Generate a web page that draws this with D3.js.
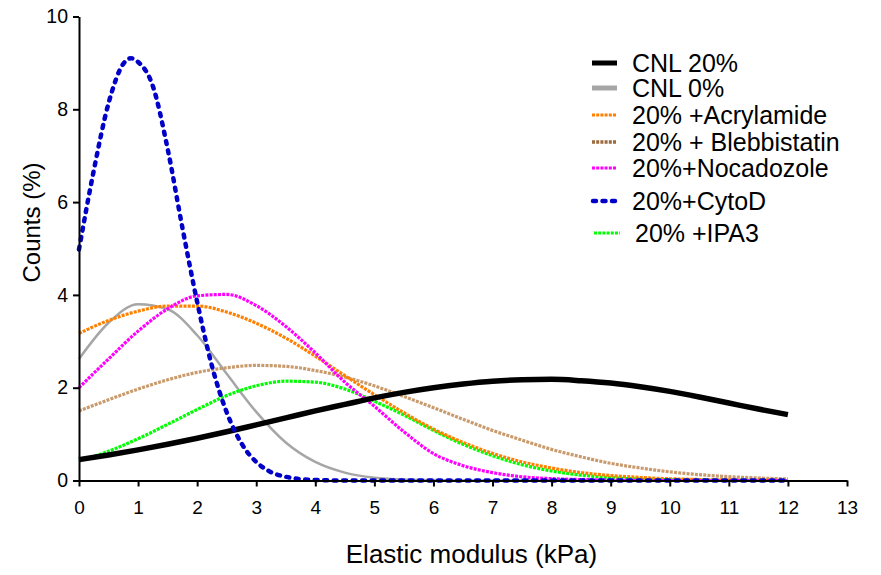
<!DOCTYPE html>
<html>
<head>
<meta charset="utf-8">
<script src="https://cdn.jsdelivr.net/npm/d3@7"></script>
<style>
  html, body { margin: 0; padding: 0; background: #fff; }
  svg { display: block; font-family: "Liberation Sans", Arial, sans-serif; }
</style>
</head>
<body>
<svg id="chart" width="881" height="575"></svg>
<script>
// ---- data ----
const xGrid = [0,0.5,1,1.5,2,2.5,3,3.5,4,4.5,5,5.5,6,6.5,7,7.5,8,8.5,9,9.5,10,10.5,11,11.5,12];
const cnl20 = [0.45,0.55,0.66,0.78,0.91,1.05,1.20,1.35,1.50,1.64,1.78,1.90,2.00,2.08,2.14,2.17,2.18,2.15,2.10,2.02,1.92,1.80,1.67,1.54,1.42];
const cnl0 = [2.62,3.40,3.80,3.69,3.13,2.30,1.48,0.82,0.40,0.17,0.06,0.02,0.01,0,0,0,0,0,0,0,0,0,0,0,0];
const acrylamide = [3.17,3.45,3.65,3.76,3.76,3.63,3.39,3.07,2.68,2.26,1.85,1.46,1.11,0.82,0.585,0.40,0.27,0.17,0.108,0.065,0.038,0.022,0.012,0.006,0.003];
const blebbistatin = [1.50,1.74,1.97,2.17,2.33,2.43,2.48,2.46,2.37,2.23,2.04,1.81,1.57,1.32,1.08,0.87,0.67,0.51,0.37,0.27,0.186,0.126,0.083,0.054,0.034];
const nocadozole = [2.0,2.62,3.22,3.70,3.98,4.01,3.77,3.32,2.75,2.12,1.60,1.05,0.58,0.32,0.17,0.08,0.04,0.02,0.01,0,0,0,0,0,0];
const ipa3 = [0.42,0.63,0.90,1.21,1.53,1.83,2.04,2.14,2.12,1.97,1.71,1.41,1.08,0.78,0.535,0.34,0.205,0.116,0.062,0.031,0.015,0.007,0.003,0.001,0];
const cytoDX = [0,0.25,0.5,0.75,0.88,1.0,1.25,1.5,1.75,2.0,2.25,2.5,2.75,3.0,3.25,3.5,3.75,4.0,4.5,5,6,7,8,9,10,11,12];
const cytoD = [4.98,6.68,8.13,8.98,9.10,9.02,8.50,7.15,5.45,3.85,2.47,1.47,0.80,0.40,0.18,0.08,0.03,0.01,0,0,0,0,0,0,0,0,0];

const seriesNames = ["CNL 20%","CNL 0%","20% +Acrylamide","20% + Blebbistatin","20%+Nocadozole","20%+CytoD","20% +IPA3"];
const xTicks = [0,1,2,3,4,5,6,7,8,9,10,11,12,13];
const yTicks = [0,2,4,6,8,10];

// ---- styles ----
const styles = {
  "CNL 20%":            {color:"#000000", width:5.5, dash:null, cap:"butt", legendColor:"#000000", legendWidth:5},
  "CNL 0%":             {color:"#a6a6a6", width:2.5, dash:null, cap:"butt", legendColor:"#a6a6a6", legendWidth:5},
  "20% +Acrylamide":    {color:"#ff8000", width:3.2, dash:"3,1.2", cap:"butt", legendColor:"#ff8000", legendWidth:3},
  "20% + Blebbistatin": {color:"#c99a6c", width:3.2, dash:"3,1.2", cap:"butt", legendColor:"#9c6b3e", legendWidth:3.5},
  "20%+Nocadozole":     {color:"#ff00ff", width:3.2, dash:"3,1.2", cap:"butt", legendColor:"#ff00ff", legendWidth:3},
  "20%+CytoD":          {color:"#0000c8", width:4.5, dash:"3,6.5", cap:"round", legendColor:"#0000c8", legendWidth:4.5},
  "20% +IPA3":          {color:"#00ff00", width:3.2, dash:"3,1.2", cap:"butt", legendColor:"#00ff00", legendWidth:3}
};

const seriesData = {
  "CNL 20%": xGrid.map((x,i)=>[x,cnl20[i]]),
  "CNL 0%": xGrid.map((x,i)=>[x,cnl0[i]]),
  "20% +Acrylamide": xGrid.map((x,i)=>[x,acrylamide[i]]),
  "20% + Blebbistatin": xGrid.map((x,i)=>[x,blebbistatin[i]]),
  "20%+Nocadozole": xGrid.map((x,i)=>[x,nocadozole[i]]),
  "20%+CytoD": cytoDX.map((x,i)=>[x,cytoD[i]]),
  "20% +IPA3": xGrid.map((x,i)=>[x,ipa3[i]])
};
const drawOrder = ["CNL 0%","20% +IPA3","20% + Blebbistatin","20% +Acrylamide","20%+Nocadozole","CNL 20%","20%+CytoD"];

// ---- layout ----
const svg = d3.select("#chart");
const x = d3.scaleLinear().domain([0,13]).range([79,847]);
const y = d3.scaleLinear().domain([0,10]).range([480.5,16.5]);

const line = d3.line().x(d=>x(d[0])).y(d=>y(d[1])).curve(d3.curveMonotoneX);

const plot = svg.append("g");
drawOrder.forEach(name=>{
  const s = styles[name];
  plot.append("path")
    .datum(seriesData[name])
    .attr("d", line)
    .attr("fill","none")
    .attr("stroke", s.color)
    .attr("stroke-width", s.width)
    .attr("stroke-linecap", s.cap)
    .attr("stroke-linejoin","round")
    .attr("stroke-dasharray", s.dash);
});

// axes
const xAxis = svg.append("g").attr("transform",`translate(0,${y(0)})`)
  .call(d3.axisBottom(x).tickValues(xTicks).tickFormat(d3.format("d")).tickSize(6).tickSizeOuter(0).tickPadding(14));
const yAxis = svg.append("g").attr("transform",`translate(${x(0)},0)`)
  .call(d3.axisLeft(y).tickValues(yTicks).tickFormat(d3.format("d")).tickSize(6).tickSizeOuter(0).tickPadding(5));

[xAxis,yAxis].forEach(g=>{
  g.select(".domain").attr("stroke","#000").attr("stroke-width",2);
  g.selectAll(".tick line").attr("stroke","#000").attr("stroke-width",2);
  g.selectAll(".tick text").attr("fill","#000").attr("font-family","Liberation Sans, Arial, sans-serif");
});
xAxis.selectAll(".tick text").attr("font-size",19);
yAxis.selectAll(".tick text").attr("font-size",19.5);

// axis titles
svg.append("text")
  .attr("x",471.5).attr("y",562.5)
  .attr("text-anchor","middle")
  .attr("font-size",26)
  .text("Elastic modulus (kPa)");
svg.append("text")
  .attr("transform","translate(39.5,222.5) rotate(-90)")
  .attr("text-anchor","middle")
  .attr("font-size",24)
  .text("Counts (%)");

// legend
const legendRows = [63,88,115,142,168,201,233];
const legendTextX = [632,632,632,632,632,632,635];
const legendLineX = [[592,617],[592,617],[592,617],[592,617],[592,617],[593,617],[594,620]];
const legend = svg.append("g");
seriesNames.forEach((name,i)=>{
  const s = styles[name];
  legend.append("line")
    .attr("x1",legendLineX[i][0]).attr("x2",legendLineX[i][1])
    .attr("y1",legendRows[i]).attr("y2",legendRows[i])
    .attr("stroke",s.legendColor)
    .attr("stroke-width",s.legendWidth)
    .attr("stroke-linecap",s.cap)
    .attr("stroke-dasharray",s.dash);
  legend.append("text")
    .attr("x",legendTextX[i]).attr("y",legendRows[i]+9)
    .attr("font-size",25)
    .text(name);
});
</script>
</body>
</html>
